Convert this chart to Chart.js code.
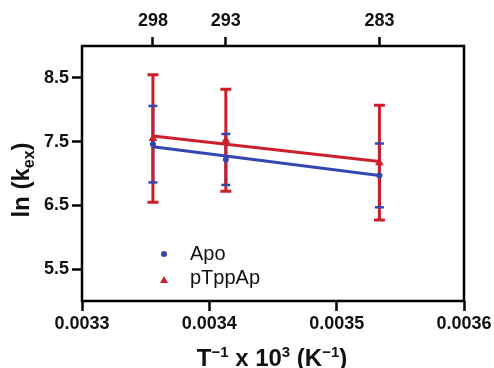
<!DOCTYPE html>
<html>
<head>
<meta charset="utf-8">
<script src="https://cdn.jsdelivr.net/npm/chart.js@4.4.1/dist/chart.umd.min.js"></script>
<style>
  html, body { margin: 0; padding: 0; background: #fff; }
  #wrap { width: 494px; height: 368px; }
</style>
</head>
<body>
<div id="wrap"><canvas id="c" width="494" height="368"></canvas></div>
<script>
// ---- data ----
const tempsK = [298, 293, 283];
const apoMean = [7.46, 7.22, 6.97];
const apoErr = [0.60, 0.40, 0.50];
const ptpMean = [7.55, 7.52, 7.17];
const ptpErr = [1.00, 0.80, 0.90];
const apoFit = [7.42, 6.97];      // fitted line at first / last temperature
const ptpFit = [7.59, 7.19];
const xTicks = [0.0033, 0.0034, 0.0035, 0.0036];
const yTicks = [5.5, 6.5, 7.5, 8.5];
const seriesNames = ['Apo', 'pTppAp'];

const BLUE = '#3347b3';
const RED = '#cc1f2b';
const FONT = '"Liberation Sans", Arial, Helvetica, sans-serif';

const invT = tempsK.map(t => 1 / t);
const pts = (ys) => invT.map((x, i) => ({ x: x, y: ys[i] }));
const fitPts = (f) => [{ x: invT[0], y: f[0] }, { x: invT[invT.length - 1], y: f[1] }];

function richText(ctx, runs, x, y, align) {
  let total = 0;
  runs.forEach(r => { ctx.font = r.font; r.w = ctx.measureText(r.t).width; total += r.w; });
  let cx = align === 'center' ? x - total / 2 : x;
  runs.forEach(r => {
    ctx.font = r.font;
    ctx.fillText(r.t, cx, y + (r.dy || 0));
    cx += r.w;
  });
}

const decor = {
  id: 'decor',
  beforeDatasetsDraw(chart) {
    const ctx = chart.ctx, xs = chart.scales.x, ys = chart.scales.y;
    ctx.save();
    ctx.lineCap = 'butt';
    // blue vertical bars
    ctx.strokeStyle = BLUE; ctx.lineWidth = 3;
    invT.forEach((x, i) => {
      const px = xs.getPixelForValue(x);
      ctx.beginPath();
      ctx.moveTo(px, ys.getPixelForValue(apoMean[i] + apoErr[i]));
      ctx.lineTo(px, ys.getPixelForValue(apoMean[i] - apoErr[i]));
      ctx.stroke();
    });
    // red bars with caps
    ctx.strokeStyle = RED; ctx.lineWidth = 3;
    invT.forEach((x, i) => {
      const px = xs.getPixelForValue(x);
      const t = ys.getPixelForValue(ptpMean[i] + ptpErr[i]);
      const b = ys.getPixelForValue(ptpMean[i] - ptpErr[i]);
      ctx.beginPath();
      ctx.moveTo(px, t); ctx.lineTo(px, b);
      ctx.moveTo(px - 5.5, t); ctx.lineTo(px + 5.5, t);
      ctx.moveTo(px - 5.5, b); ctx.lineTo(px + 5.5, b);
      ctx.stroke();
    });
    // blue caps
    ctx.strokeStyle = BLUE; ctx.lineWidth = 2.5;
    invT.forEach((x, i) => {
      const px = xs.getPixelForValue(x);
      [apoMean[i] + apoErr[i], apoMean[i] - apoErr[i]].forEach(v => {
        const py = ys.getPixelForValue(v);
        ctx.beginPath();
        ctx.moveTo(px - 4.5, py); ctx.lineTo(px + 4.5, py);
        ctx.stroke();
      });
    });
    ctx.restore();
  },
  afterDraw(chart) {
    const ctx = chart.ctx, a = chart.chartArea;
    ctx.save();
    // frame
    ctx.strokeStyle = '#000'; ctx.lineWidth = 2.5;
    ctx.strokeRect(a.left, a.top, a.right - a.left, a.bottom - a.top);
    // legend
    ctx.fillStyle = BLUE;
    ctx.beginPath(); ctx.arc(164, 254, 3, 0, Math.PI * 2); ctx.fill();
    ctx.fillStyle = RED;
    ctx.beginPath(); ctx.moveTo(164, 276); ctx.lineTo(168, 283); ctx.lineTo(160, 283); ctx.closePath(); ctx.fill();
    ctx.fillStyle = '#111';
    ctx.font = '20px ' + FONT;
    ctx.textBaseline = 'alphabetic'; ctx.textAlign = 'left';
    ctx.fillText(seriesNames[0], 190, 260);
    ctx.fillText(seriesNames[1], 190, 284);
    // x title
    const B = (s) => 'bold ' + s + 'px ' + FONT;
    richText(ctx, [
      { t: 'T', font: B(24) },
      { t: '\u22121', font: B(15), dy: -9 },
      { t: ' x 10', font: B(24) },
      { t: '3', font: B(15), dy: -9 },
      { t: ' (K', font: B(24) },
      { t: '\u22121', font: B(15), dy: -9 },
      { t: ')', font: B(24) }
    ], 272, 366, 'center');
    // y title
    ctx.translate(29, 180);
    ctx.rotate(-Math.PI / 2);
    richText(ctx, [
      { t: 'ln (k', font: B(24) },
      { t: 'ex', font: B(16), dy: 5 },
      { t: ')', font: B(24) }
    ], 0, 0, 'center');
    ctx.restore();
  }
};

const tickFont = { family: FONT, size: 18, weight: 'bold' };
const gridCommon = { display: true, drawOnChartArea: false, drawTicks: true, tickWidth: 2.5, tickColor: '#000' };

new Chart(document.getElementById('c'), {
  type: 'scatter',
  data: {
    datasets: [
      { label: 'Apo fit', data: fitPts(apoFit), showLine: true, borderColor: BLUE, borderWidth: 3, pointRadius: 0, order: 3 },
      { label: 'pTppAp fit', data: fitPts(ptpFit), showLine: true, borderColor: RED, borderWidth: 3, pointRadius: 0, order: 2 },
      { label: seriesNames[0], data: pts(apoMean), pointStyle: 'circle', pointRadius: 3, backgroundColor: BLUE, borderColor: BLUE, borderWidth: 0, order: 1 },
      { label: seriesNames[1], data: pts(ptpMean), pointStyle: 'triangle', pointRadius: 5, backgroundColor: RED, borderColor: RED, borderWidth: 0, order: 0 }
    ]
  },
  options: {
    responsive: false,
    animation: false,
    events: [],
    layout: { padding: { right: 30, left: 0, top: 0, bottom: 0 } },
    plugins: { legend: { display: false }, tooltip: { enabled: false } },
    scales: {
      x: {
        type: 'linear', position: 'bottom', min: 0.0033, max: 0.0036,
        afterBuildTicks: s => { s.ticks = xTicks.map(v => ({ value: v })); },
        afterFit: s => { s.height = 67; },
        ticks: { font: tickFont, color: '#111', padding: 2, maxRotation: 0, autoSkip: false, callback: v => v.toFixed(4) },
        grid: Object.assign({ tickLength: 10 }, gridCommon),
        border: { display: false }
      },
      x2: {
        type: 'linear', position: 'top', min: 0.0033, max: 0.0036,
        afterBuildTicks: s => { s.ticks = invT.map(v => ({ value: v })); },
        afterFit: s => { s.height = 46; },
        ticks: { font: tickFont, color: '#111', padding: 5, maxRotation: 0, autoSkip: false,
                 callback: (v, i) => String(tempsK[i]) },
        grid: Object.assign({ tickLength: 9 }, gridCommon),
        border: { display: false }
      },
      y: {
        type: 'linear', position: 'left', min: 5, max: 9,
        afterBuildTicks: s => { s.ticks = yTicks.map(v => ({ value: v })); },
        afterFit: s => { s.width = 82; },
        ticks: { font: tickFont, color: '#111', padding: 3, autoSkip: false, callback: v => v.toFixed(1) },
        grid: Object.assign({ tickLength: 10 }, gridCommon),
        border: { display: false }
      }
    }
  },
  plugins: [decor]
});
</script>
</body>
</html>
